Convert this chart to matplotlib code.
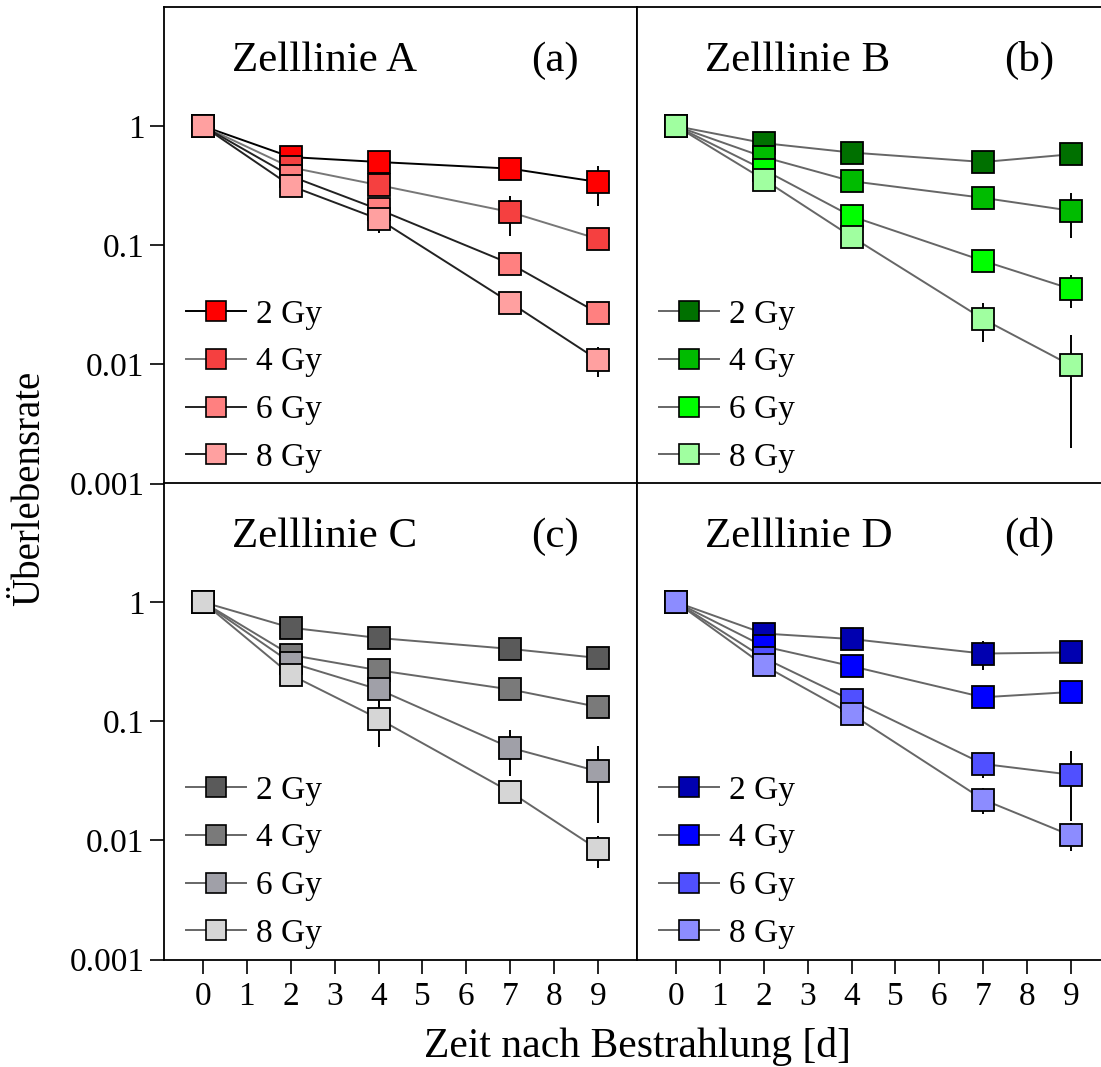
import matplotlib
matplotlib.use("Agg")
import matplotlib.pyplot as plt
from matplotlib.lines import Line2D

plt.rcParams['font.family'] = ['Liberation Serif', 'DejaVu Serif']

days = [0, 2, 4, 7, 9]
doses = ["2 Gy", "4 Gy", "6 Gy", "8 Gy"]
xticks = [0, 1, 2, 3, 4, 5, 6, 7, 8, 9]
yticks = [1, 0.1, 0.01, 0.001]
yticklabels = ["1", "0.1", "0.01", "0.001"]
titles = ["Zelllinie A", "Zelllinie B", "Zelllinie C", "Zelllinie D"]
tags = ["(a)", "(b)", "(c)", "(d)"]

# Zelllinie A
a_2 = [1.0, 0.55, 0.50, 0.44, 0.34]
a_4 = [1.0, 0.45, 0.32, 0.19, 0.113]
a_6 = [1.0, 0.38, 0.20, 0.070, 0.027]
a_8 = [1.0, 0.315, 0.166, 0.033, 0.0109]
a_2e = [0.08, 0.04, 0.04, 0.04, 0.125]
a_4e = [0.08, 0.03, 0.03, 0.07, 0.01]
a_6e = [0.08, 0.03, 0.02, 0.006, 0.004]
a_8e = [0.08, 0.05, 0.04, 0.004, 0.003]

# Zelllinie B
b_2 = [1.0, 0.72, 0.60, 0.50, 0.58]
b_4 = [1.0, 0.55, 0.345, 0.25, 0.195]
b_6 = [1.0, 0.43, 0.175, 0.074, 0.043]
b_8 = [1.0, 0.356, 0.118, 0.024, 0.0098]
b_2e = [0.08, 0.05, 0.05, 0.05, 0.05]
b_4e = [0.08, 0.04, 0.03, 0.03, 0.08]
b_6e = [0.08, 0.03, 0.02, 0.006, 0.013]
b_8e = [0.08, 0.04, 0.015, 0.0085, 0.0078]

# Zelllinie C
c_2 = [1.0, 0.61, 0.50, 0.405, 0.34]
c_4 = [1.0, 0.36, 0.268, 0.185, 0.132]
c_6 = [1.0, 0.31, 0.185, 0.060, 0.038]
c_8 = [1.0, 0.245, 0.105, 0.0255, 0.0084]
c_2e = [0.1, 0.05, 0.04, 0.03, 0.03]
c_4e = [0.1, 0.03, 0.03, 0.015, 0.012]
c_6e = [0.1, 0.03, 0.078, 0.025, 0.024]
c_8e = [0.1, 0.03, 0.044, 0.003, 0.0025]

# Zelllinie D
d_2 = [1.0, 0.545, 0.49, 0.37, 0.378]
d_4 = [1.0, 0.425, 0.29, 0.159, 0.176]
d_6 = [1.0, 0.34, 0.15, 0.0438, 0.0356]
d_8 = [1.0, 0.294, 0.1145, 0.022, 0.011]
d_2e = [0.1, 0.04, 0.05, 0.10, 0.04]
d_4e = [0.1, 0.03, 0.03, 0.02, 0.02]
d_6e = [0.1, 0.03, 0.015, 0.0105, 0.021]
d_8e = [0.1, 0.03, 0.015, 0.0053, 0.0029]

values = [[a_2, a_4, a_6, a_8], [b_2, b_4, b_6, b_8],
          [c_2, c_4, c_6, c_8], [d_2, d_4, d_6, d_8]]
errors = [[a_2e, a_4e, a_6e, a_8e], [b_2e, b_4e, b_6e, b_8e],
          [c_2e, c_4e, c_6e, c_8e], [d_2e, d_4e, d_6e, d_8e]]

colors = [["#FF0000", "#F54040", "#FF8080", "#FFA0A0"],
          ["#007000", "#00BB00", "#00FF00", "#A0FFA0"],
          ["#5A5A5A", "#7A7A7A", "#A0A0A8", "#D6D6D6"],
          ["#0000B0", "#0000FF", "#5050FF", "#8C8CFF"]]
line_colors = [["#000000", "#777777", "#222222", "#222222"],
               ["#666666"] * 4, ["#666666"] * 4, ["#666666"] * 4]

W, H = 1101, 1067
fig = plt.figure(figsize=(W / 100, H / 100), dpi=100)

left_px = [164, 637, 164, 637]
top_px = [7, 7, 483, 483]
aw, ah = 473, 476.5

for i in range(4):
    ax = fig.add_axes([left_px[i] / W, 1 - (top_px[i] + ah) / H, aw / W, ah / H])
    ax.set_yscale('log')
    ax.set_xlim(-0.89, 9.89)
    ax.set_ylim(0.001, 10)
    for j in range(4):
        v = values[i][j]
        e = errors[i][j]
        lo = [min(ee, vv * 0.999) for vv, ee in zip(v, e)]
        ax.errorbar(days, v, yerr=[lo, e], fmt='none', ecolor='black',
                    elinewidth=1.4, capsize=0, zorder=1)
        ax.plot(days, v, color=line_colors[i][j], lw=1.4, zorder=2)
    handles = []
    for j in range(4):
        v = values[i][j]
        ax.plot(days, v, ls='none', marker='s', markersize=15.5,
                markerfacecolor=colors[i][j], markeredgecolor='black',
                markeredgewidth=1.3, zorder=3)
        handles.append(Line2D([], [], color=line_colors[i][j], lw=1.4, marker='s',
                              markersize=14, markerfacecolor=colors[i][j],
                              markeredgecolor='black', markeredgewidth=1.2))
    ax.legend(handles, doses, loc='lower left', bbox_to_anchor=(0.047, 0.022),
              frameon=False, fontsize=24, handlelength=1.8, handletextpad=0.28,
              labelspacing=0.52, borderpad=0, borderaxespad=0)
    ax.text(0.144, 0.865, titles[i], transform=ax.transAxes, fontsize=31,
            ha='left', va='baseline')
    ax.text(0.776, 0.865, tags[i], transform=ax.transAxes, fontsize=31,
            ha='left', va='baseline')
    ax.minorticks_off()
    if i % 2 == 0:
        ax.set_yticks(yticks)
        ax.set_yticklabels(yticklabels)
        ax.tick_params(axis='y', direction='out', length=10, width=1.2,
                       labelsize=24, pad=4)
    else:
        ax.set_yticks([])
    if i >= 2:
        ax.set_xticks(xticks)
        ax.set_xticklabels([str(t) for t in xticks])
        ax.tick_params(axis='x', direction='out', length=10, width=1.2,
                       labelsize=24, pad=6)
    else:
        ax.set_xticks([])
    for s in ax.spines.values():
        s.set_linewidth(1.3)

fig.text(30 / W, 1 - 488 / H, "Überlebensrate", rotation=90, fontsize=28,
         ha='center', va='center')
fig.text(637 / W, 1 - 1057 / H, "Zeit nach Bestrahlung [d]", fontsize=30,
         ha='center', va='baseline')

fig.savefig("out.png", dpi=100)
